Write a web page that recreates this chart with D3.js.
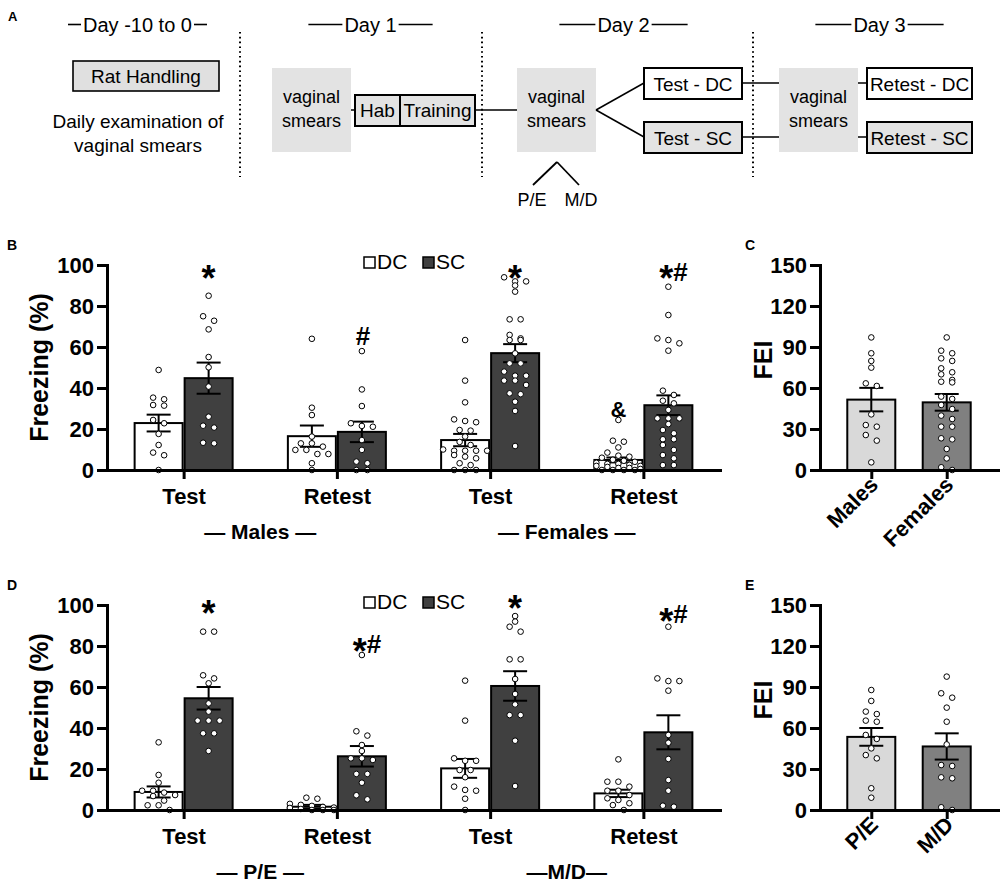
<!DOCTYPE html>
<html><head><meta charset="utf-8">
<script src="https://cdn.jsdelivr.net/npm/d3@7"></script>
<style>body{margin:0;background:#fff}</style>
</head><body>
<svg id="chart" width="1000" height="885"></svg>
<script>
// ================= DATA =================
const dayLabels = ["Day -10 to 0", "Day 1", "Day 2", "Day 3"];
const seriesNames = ["DC", "SC"];
const freezeKeys = ["g1", "g2", "g3", "g4"];
const freezeTickLabels = ["Test", "Retest", "Test", "Retest"];
const freezeTicks = [0, 20, 40, 60, 80, 100];
const feiTicks = [0, 30, 60, 90, 120, 150];

// Panel B (Males / Females)
const bGroupLabels = ["— Males —", "— Females —"];
const bDCMean = [22.9, 16.5, 14.6, 4.9];
const bDCSem  = [4.1, 5.2, 3.0, 1.2];
const bSCMean = [44.8, 18.6, 57.0, 31.6];
const bSCSem  = [7.6, 5.0, 4.4, 4.8];
const bDCPts = [
  [48.8, 35.3, 34.5, 31.7, 31.4, 24.4, 22.8, 17.6, 12.2, 8.5, 7.2, 0],
  [64, 30.4, 26.8, 16.3, 13, 13, 11.4, 9.8, 9.8, 7.8, 7.8, 3.3, 0],
  [63.4, 43.6, 33, 24.7, 23.9, 23.3, 19.5, 19.2, 16.3, 13.7, 12.2, 10, 9.4, 9.4, 9.4, 9.4, 7.3, 6.5, 5.7, 3.3, 2.4, 0, 0, 0],
  [24.4, 14.3, 13.8, 11, 8.5, 7, 6.5, 6, 5, 4.5, 4, 3.5, 3, 3, 2.5, 2, 2, 1.5, 1, 1, 0.5, 0, 0, 0, 0]
];
const bSCPts = [
  [85, 75, 72.8, 68.6, 55.1, 50.1, 40.7, 26, 21.6, 20.7, 13.3, 13],
  [58, 39.3, 31.2, 22.8, 21.5, 21.1, 14.6, 9.8, 4.1, 3.3, 0, 0],
  [94, 92, 92, 90, 87, 73.5, 73.5, 65.9, 64.2, 63.4, 63.4, 56.9, 52, 52, 48, 46, 46, 43.6, 43.6, 41.5, 37.4, 37, 33.3, 28.8, 11.7],
  [89.4, 75.6, 64.2, 63.4, 61.8, 58.2, 38.7, 36.6, 33.8, 32.5, 29.3, 25.2, 25.2, 25.2, 22.4, 19.5, 17.9, 15, 15, 12.2, 9.8, 7.3, 5.7, 2.4, 2.4]
];
const bDCAnn = ["", "", "", "&"];
const bDCAnnLevel = [0, 0, 0, 30];
const bSCAnn = ["*", "#", "*", "*#"];
const bSCAnnLevel = [97, 65.4, 97, 96.7];

// Panel C (FEI by sex)
const cCats = ["Males", "Females"];
const cMean = [51.5, 49.5];
const cSem  = [8.6, 6.1];
const cPts = [
  [97, 85.4, 79.8, 74.9, 63.4, 61.5, 40.7, 32.9, 31.7, 25.6, 21.5, 5.6],
  [97, 87.3, 85.4, 81.7, 79.8, 74.4, 71.5, 70, 65.9, 64.6, 64.1, 53.7, 52, 47.6, 44.6, 39.8, 37.3, 31.7, 31.7, 23.2, 22.4, 15.4, 8.5, 2, 0]
];

// Panel D (P/E / M/D)
const dGroupLabels = ["— P/E —", "—M/D—"];
const dDCMean = [8.8, 1.6, 20.3, 8.1];
const dDCSem  = [2.7, 0.9, 4.6, 1.8];
const dSCMean = [54.5, 26.2, 60.5, 37.9];
const dSCSem  = [5.5, 5.0, 7.2, 8.3];
const dDCPts = [
  [33, 17.1, 13.3, 9.4, 9.4, 8.5, 7.3, 6.8, 4.6, 2.3, 2.3, 0],
  [6, 5.5, 3, 2.5, 2, 1.5, 1.2, 1, 0.5, 0, 0, 0],
  [63.1, 43.6, 25.2, 24, 24, 19.5, 19.5, 16, 11.4, 9.8, 9.4, 5.5, 0],
  [24.7, 13.8, 13.8, 11.4, 9.4, 9.4, 7.3, 5.7, 4.9, 3.3, 2.4, 0]
];
const dSCPts = [
  [87, 87, 65.7, 64.2, 61.8, 52, 48, 43.6, 43.6, 43.6, 37.4, 37.4, 28.8],
  [75.6, 38.4, 36.3, 31.7, 28.8, 25.2, 25.2, 24.4, 17.6, 17.6, 13.3, 7.2, 5.2],
  [94.6, 91.9, 89.4, 87, 73.5, 73.5, 63.9, 56.6, 51.5, 46.3, 46.3, 33.8, 11.7],
  [89.4, 64.2, 62.9, 62.9, 58.2, 36.6, 32.8, 24.9, 14.6, 9.4, 2.1, 1.6]
];
const dDCAnn = ["", "", "", ""];
const dDCAnnLevel = [0, 0, 0, 0];
const dSCAnn = ["*", "*#", "*", "*#"];
const dSCAnnLevel = [99.5, 81, 102, 95.6];

// Panel E (FEI by phase)
const eCats = ["P/E", "M/D"];
const eMean = [53.5, 46.5];
const eSem  = [6.5, 9.6];
const ePts = [
  [87.8, 79.8, 72, 70.2, 65.4, 64.6, 54.9, 52, 45.1, 40.2, 37.8, 15.9, 9],
  [97.6, 85.4, 82.2, 74.9, 64.6, 48, 32.9, 32.2, 23.9, 23.2, 2, 0]
];

// ================= DRAWING =================
const FONT = "'Liberation Sans', Arial, Helvetica, sans-serif";
const svg = d3.select("#chart").attr("font-family", FONT);

function txt(parent, x, y, s, size, bold, anchor) {
  return parent.append("text").attr("x", x).attr("y", y).text(s)
    .attr("font-size", size).attr("font-weight", bold ? "bold" : "normal")
    .attr("text-anchor", anchor || "middle").attr("fill", "#000");
}
function line(parent, x1, y1, x2, y2, w) {
  return parent.append("line").attr("x1", x1).attr("y1", y1).attr("x2", x2).attr("y2", y2)
    .attr("stroke", "#000").attr("stroke-width", w || 1.5);
}
function box(parent, x, y, w, h, fill, sw) {
  return parent.append("rect").attr("x", x).attr("y", y).attr("width", w).attr("height", h)
    .attr("fill", fill).attr("stroke", sw ? "#000" : "none").attr("stroke-width", sw || 0);
}

// ---------- Panel A ----------
const gA = svg.append("g");
txt(gA, 8, 21, "A", 13, true, "start");
const hdrCenters = [137.5, 370.5, 623.5, 879.5];
const hdrDash = [13, 34, 36, 36];
dayLabels.forEach((t, i) => {
  const el = txt(gA, hdrCenters[i], 31.5, t, 20, false);
  const w = el.node().getComputedTextLength();
  const cx = hdrCenters[i];
  line(gA, cx - w / 2 - 2 - hdrDash[i], 24.5, cx - w / 2 - 2, 24.5, 1.6);
  line(gA, cx + w / 2 + 2, 24.5, cx + w / 2 + 2 + hdrDash[i], 24.5, 1.6);
});
[240, 482, 753].forEach(x => {
  gA.append("line").attr("x1", x).attr("x2", x).attr("y1", 32).attr("y2", 177)
    .attr("stroke", "#000").attr("stroke-width", 2).attr("stroke-dasharray", "1.6,3.2");
});
box(gA, 73, 61, 146, 30, "#e0e0e0", 1.6);
txt(gA, 146, 83, "Rat Handling", 19);
txt(gA, 138, 128, "Daily examination of", 19);
txt(gA, 138, 152, "vaginal smears", 19);
[272, 517, 779].forEach(x => {
  box(gA, x, 68, 79, 84, "#e3e3e3", 0);
  txt(gA, x + 39.5, 103, "vaginal", 18);
  txt(gA, x + 39.5, 127, "smears", 18);
});
line(gA, 351, 110, 355, 110);
box(gA, 355, 95, 45, 31, "#e3e3e3", 2);
box(gA, 400, 95, 75, 31, "#e3e3e3", 2);
txt(gA, 377.5, 117, "Hab", 19);
txt(gA, 437.5, 117, "Training", 19);
line(gA, 475, 110, 517, 110);
line(gA, 596, 110, 644, 83);
line(gA, 596, 110, 644, 137);
box(gA, 644, 68, 98, 31, "#ffffff", 2);
box(gA, 644, 122, 98, 31, "#e3e3e3", 2);
txt(gA, 693, 91, "Test - DC", 19);
txt(gA, 693, 145, "Test - SC", 19);
line(gA, 742, 83, 779, 83);
line(gA, 742, 137, 779, 137);
line(gA, 858, 83, 867, 83);
line(gA, 858, 137, 867, 137);
box(gA, 867, 68, 105, 31, "#ffffff", 2);
box(gA, 867, 122, 105, 31, "#e3e3e3", 2);
txt(gA, 919.5, 91, "Retest - DC", 19);
txt(gA, 919.5, 145, "Retest - SC", 19);
line(gA, 557, 162, 533, 185, 1.8);
line(gA, 557, 162, 579, 185, 1.8);
txt(gA, 532, 206, "P/E", 18);
txt(gA, 581, 206, "M/D", 18);

// ---------- helpers for charts ----------
function swarm(vals, y, gap, thresh, maxRow) {
  const pts = vals.map(v => ({ v, py: y(v) })).sort((a, b) => a.py - b.py);
  const rows = [];
  pts.forEach(p => {
    const r = rows[rows.length - 1];
    if (r && p.py - r[0].py < thresh && r.length < maxRow) r.push(p); else rows.push([p]);
  });
  rows.forEach(r => r.forEach((p, k) => p.dx = (k - (r.length - 1) / 2) * gap));
  return pts;
}
function styleAxis(a, size) {
  a.attr("font-size", null).attr("font-family", null);
  a.select(".domain").attr("stroke", "#000").attr("stroke-width", 3).attr("stroke-linecap", "square");
  a.selectAll(".tick line").attr("stroke", "#000").attr("stroke-width", 3);
  a.selectAll(".tick text").attr("font-size", size).attr("font-weight", "bold").attr("fill", "#000");
}
function errBar(g, cx, y, m, s) {
  line(g, cx, y(m - s), cx, y(m + s), 2);
  line(g, cx - 12, y(m + s), cx + 12, y(m + s), 2);
  line(g, cx - 12, y(m - s), cx + 12, y(m - s), 2);
}
function drawPoints(g, cx, y, vals, thresh) {
  swarm(vals, y, 11, thresh, 5).forEach(p => {
    g.append("circle").attr("cx", cx + p.dx).attr("cy", p.py).attr("r", 2.8)
      .attr("fill", "#fff").attr("stroke", "#000").attr("stroke-width", 1);
  });
}
function annot(g, cx, cy, s) {
  if (!s) return;
  if (s === "*") {
    txt(g, cx, cy + 19.7, "*", 36, true);
  } else if (s === "*#") {
    const t = g.append("text").attr("x", cx + 5).attr("y", cy + 9.2)
      .attr("text-anchor", "middle").attr("font-weight", "bold").attr("fill", "#000");
    t.append("tspan").attr("font-size", 36).attr("dy", 10.5).text("*");
    t.append("tspan").attr("font-size", 26).attr("dy", -10.5).text("#");
  } else if (s === "#") {
    txt(g, cx + 1, cy + 9.2, s, 26, true);
  } else {
    txt(g, cx, cy + 8, s, 22, true);
  }
}

// ---------- Freezing panels (B, D) ----------
function freezing(cfg) {
  const g = svg.append("g");
  const x = d3.scalePoint().domain(freezeKeys).range([107, 720]).padding(0.5);
  const y = d3.scaleLinear().domain([0, 100]).range([cfg.y0, cfg.y0 - 205]);
  const sub = d3.scaleBand().domain(seriesNames).range([-50, 50]);
  const ser = [
    { name: "DC", mean: cfg.dcMean, sem: cfg.dcSem, pts: cfg.dcPts, fill: "#ffffff", ann: cfg.dcAnn, lv: cfg.dcAnnLv },
    { name: "SC", mean: cfg.scMean, sem: cfg.scSem, pts: cfg.scPts, fill: "#404040", ann: cfg.scAnn, lv: cfg.scAnnLv }
  ];
  const bw = sub.bandwidth();
  ser.forEach(s => freezeKeys.forEach((k, i) => {
    const x0 = x(k) + sub(s.name);
    g.append("rect").attr("x", x0 + 1).attr("y", y(s.mean[i])).attr("width", bw - 2)
      .attr("height", y(0) - y(s.mean[i])).attr("fill", s.fill).attr("stroke", "#000").attr("stroke-width", 2);
  }));
  ser.forEach(s => freezeKeys.forEach((k, i) => {
    const cx = x(k) + sub(s.name) + bw / 2;
    errBar(g, cx, y, s.mean[i], s.sem[i]);
  }));
  ser.forEach(s => freezeKeys.forEach((k, i) => {
    const cx = x(k) + sub(s.name) + bw / 2;
    drawPoints(g, cx, y, s.pts[i], 5);
    if (s.ann[i]) annot(g, cx, y(s.lv[i]), s.ann[i]);
  }));
  const ya = g.append("g").attr("transform", "translate(107,0)")
    .call(d3.axisLeft(y).tickValues(freezeTicks).tickSize(10).tickSizeOuter(0).tickPadding(3));
  styleAxis(ya, 22);
  const xa = g.append("g").attr("transform", `translate(0,${cfg.y0})`)
    .call(d3.axisBottom(x).tickSize(9).tickSizeOuter(0).tickPadding(9).tickFormat((d, i) => freezeTickLabels[i]));
  styleAxis(xa, 22);
  // y title
  g.append("text").attr("transform", `translate(48,${y(50)}) rotate(-90)`).attr("text-anchor", "middle")
    .attr("font-size", 25).attr("font-weight", "bold").attr("fill", "#000").text("Freezing (%)");
  // group labels
  txt(g, (x(freezeKeys[0]) + x(freezeKeys[1])) / 2, cfg.y0 + 69, cfg.groupLabels[0], 21, true);
  txt(g, (x(freezeKeys[2]) + x(freezeKeys[3])) / 2, cfg.y0 + 69, cfg.groupLabels[1], 21, true);
  // legend
  const ly = cfg.y0 - 208;
  const legX = [364, 423];
  ser.forEach((s, i) => {
    g.append("rect").attr("x", legX[i]).attr("y", ly - 5).attr("width", 11).attr("height", 11)
      .attr("fill", s.fill).attr("stroke", "#000").attr("stroke-width", 1.5);
    txt(g, legX[i] + 13, ly + 7, s.name, 21, false, "start");
  });
  txt(g, 7, cfg.y0 - 220, cfg.letter, 14, true, "start");
}

// ---------- FEI panels (C, E) ----------
function fei(cfg) {
  const g = svg.append("g");
  const x = d3.scalePoint().domain(cfg.cats).range([820, 998]).padding(0.68);
  const y = d3.scaleLinear().domain([0, 150]).range([cfg.y0, cfg.y0 - 205]);
  const fills = ["#d9d9d9", "#808080"];
  cfg.cats.forEach((c, i) => {
    g.append("rect").attr("x", x(c) - 24).attr("y", y(cfg.mean[i])).attr("width", 48)
      .attr("height", y(0) - y(cfg.mean[i])).attr("fill", fills[i]).attr("stroke", "#000").attr("stroke-width", 2);
  });
  cfg.cats.forEach((c, i) => errBar(g, x(c), y, cfg.mean[i], cfg.sem[i]));
  cfg.cats.forEach((c, i) => drawPoints(g, x(c), y, cfg.pts[i], 6));
  const ya = g.append("g").attr("transform", "translate(820,0)")
    .call(d3.axisLeft(y).tickValues(feiTicks).tickSize(10).tickSizeOuter(0).tickPadding(3));
  styleAxis(ya, 22);
  const xa = g.append("g").attr("transform", `translate(0,${cfg.y0})`)
    .call(d3.axisBottom(x).tickSize(9).tickSizeOuter(0).tickFormat(""));
  styleAxis(xa, 22);
  cfg.cats.forEach(c => {
    g.append("text").attr("transform", `translate(${x(c) + 8},${cfg.y0 + 16}) rotate(-45)`)
      .attr("text-anchor", "end").attr("font-size", 22).attr("font-weight", "bold").attr("fill", "#000").text(c);
  });
  g.append("text").attr("transform", `translate(772,${cfg.y0 - 110}) rotate(-90)`).attr("text-anchor", "middle")
    .attr("font-size", 25).attr("font-weight", "bold").attr("fill", "#000").text("FEI");
  txt(g, 745, cfg.y0 - 220, cfg.letter, 14, true, "start");
}

freezing({ y0: 470, letter: "B", groupLabels: bGroupLabels,
  dcMean: bDCMean, dcSem: bDCSem, dcPts: bDCPts, dcAnn: bDCAnn, dcAnnLv: bDCAnnLevel,
  scMean: bSCMean, scSem: bSCSem, scPts: bSCPts, scAnn: bSCAnn, scAnnLv: bSCAnnLevel });
freezing({ y0: 810, letter: "D", groupLabels: dGroupLabels,
  dcMean: dDCMean, dcSem: dDCSem, dcPts: dDCPts, dcAnn: dDCAnn, dcAnnLv: dDCAnnLevel,
  scMean: dSCMean, scSem: dSCSem, scPts: dSCPts, scAnn: dSCAnn, scAnnLv: dSCAnnLevel });
fei({ y0: 470, letter: "C", cats: cCats, mean: cMean, sem: cSem, pts: cPts });
fei({ y0: 810, letter: "E", cats: eCats, mean: eMean, sem: eSem, pts: ePts });
</script>
</body></html>
